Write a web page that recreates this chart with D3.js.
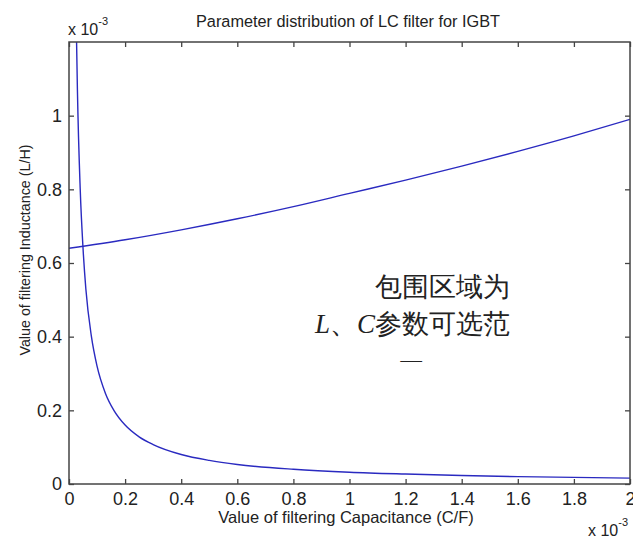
<!DOCTYPE html>
<html>
<head>
<meta charset="utf-8">
<script src="https://cdn.jsdelivr.net/npm/d3@7"></script>
<style>
  body { margin: 0; background: #fff; }
  text { font-family: "Liberation Sans", Arial, sans-serif; fill: #222; }
</style>
</head>
<body>
<div id="chart"></div>
<script>
// values in units of 1e-3 (as plotted, with the x 10^-3 multiplier)
const upperC = [0, 0.2, 0.4, 0.6, 0.8, 1.0, 1.2, 1.4, 1.6, 1.8, 2.0];
const upperL = [0.64, 0.663, 0.69, 0.72, 0.753, 0.789, 0.825, 0.863, 0.903, 0.945, 0.99];

const lowerC = [0.027, 0.03, 0.04, 0.05, 0.06, 0.08, 0.1, 0.13, 0.16, 0.2, 0.25, 0.3, 0.4, 0.5, 0.6, 0.8, 1.0, 1.2, 1.4, 1.6, 1.8, 2.0];
const lowerL = [1.2, 1.07, 0.80, 0.64, 0.53, 0.40, 0.32, 0.246, 0.20, 0.16, 0.128, 0.107, 0.08, 0.064, 0.053, 0.04, 0.032, 0.027, 0.023, 0.02, 0.018, 0.016];

const xTicks = [0, 0.2, 0.4, 0.6, 0.8, 1, 1.2, 1.4, 1.6, 1.8, 2];
const yTicks = [0, 0.2, 0.4, 0.6, 0.8, 1];

const width = 633, height = 539;
const m = { left: 69, right: 3, top: 42, bottom: 55 };
const iw = width - m.left - m.right;
const ih = height - m.top - m.bottom;

const svg = d3.select("#chart").append("svg")
    .attr("width", width)
    .attr("height", height);

const g = svg.append("g").attr("transform", `translate(${m.left},${m.top})`);

const x = d3.scaleLinear().domain([0, 2]).range([0, iw]);
const y = d3.scaleLinear().domain([0, 1.2]).range([ih, 0]);

// clip for the curves
svg.append("clipPath").attr("id", "plotclip")
    .append("rect").attr("width", iw).attr("height", ih);

const line = d3.line()
    .x(d => x(d[0]))
    .y(d => y(d[1]))
    .curve(d3.curveMonotoneX);

const curves = g.append("g").attr("clip-path", "url(#plotclip)");
curves.append("path")
    .datum(upperC.map((c, i) => [c, upperL[i]]))
    .attr("d", line)
    .attr("fill", "none")
    .attr("stroke", "#2a2ac0")
    .attr("stroke-width", 1.4);
curves.append("path")
    .datum(lowerC.map((c, i) => [c, lowerL[i]]))
    .attr("d", line)
    .attr("fill", "none")
    .attr("stroke", "#2a2ac0")
    .attr("stroke-width", 1.4);

// axes, MATLAB style: ticks inside on all four sides
const axisColor = "#444";
const fmt = d => d3.format("~g")(d);

const xb = g.append("g").attr("transform", `translate(0,${ih})`)
    .call(d3.axisBottom(x).tickValues(xTicks).tickSizeInner(-5).tickSizeOuter(0).tickPadding(8).tickFormat(fmt));
const xt = g.append("g")
    .call(d3.axisTop(x).tickValues(xTicks).tickSizeInner(-5).tickSizeOuter(0).tickFormat(""));
const yl = g.append("g")
    .call(d3.axisLeft(y).tickValues(yTicks).tickSizeInner(-5).tickSizeOuter(0).tickPadding(7).tickFormat(fmt));
const yr = g.append("g").attr("transform", `translate(${iw},0)`)
    .call(d3.axisRight(y).tickValues(yTicks).tickSizeInner(-5).tickSizeOuter(0).tickFormat(""));

[xb, xt, yl, yr].forEach(a => {
    a.select(".domain").remove();
    a.selectAll("line").attr("stroke", axisColor).attr("stroke-width", 1.3);
    a.selectAll("text").attr("font-size", 18).attr("fill", "#333")
        .attr("font-family", "Liberation Sans, Arial, sans-serif");
});

g.append("rect")
    .attr("width", iw).attr("height", ih)
    .attr("fill", "none")
    .attr("stroke", axisColor)
    .attr("stroke-width", 1.5);

// exponent labels
function expLabel(px, py) {
    const t = svg.append("text").attr("x", px).attr("y", py).attr("font-size", 16);
    t.append("tspan").text("x 10");
    t.append("tspan").attr("dy", -10).attr("font-size", 11).text("-3");
}
expLabel(68, 35);
expLabel(588, 536);

// title and axis labels
svg.append("text")
    .attr("x", 348).attr("y", 27)
    .attr("text-anchor", "middle")
    .attr("font-size", 16.3)
    .text("Parameter distribution of LC filter for IGBT");

svg.append("text")
    .attr("x", 346).attr("y", 523)
    .attr("text-anchor", "middle")
    .attr("font-size", 16.5)
    .text("Value of filtering Capacitance (C/F)");

svg.append("text")
    .attr("transform", "translate(30,250) rotate(-90)")
    .attr("text-anchor", "middle")
    .attr("font-size", 14.3)
    .text("Value of filtering Inductance (L/H)");

// annotation text box (last line clipped)
const cjk = "'Noto Sans CJK SC', sans-serif";
svg.append("clipPath").attr("id", "noteclip")
    .append("rect").attr("x", 280).attr("y", 260).attr("width", 260).attr("height", 102);
const note = svg.append("g").attr("clip-path", "url(#noteclip)");
note.append("text")
    .attr("x", 510).attr("y", 296)
    .attr("text-anchor", "end")
    .attr("font-size", 27)
    .attr("font-family", cjk).attr("font-weight", 300)
    .text("包围区域为");
const l2 = note.append("text")
    .attr("x", 510).attr("y", 333)
    .attr("text-anchor", "end")
    .attr("font-size", 27)
    .attr("font-family", cjk).attr("font-weight", 300);
l2.append("tspan").attr("font-family", "Liberation Serif, serif").attr("font-style", "italic").text("L");
l2.append("tspan").text("、");
l2.append("tspan").attr("font-family", "Liberation Serif, serif").attr("font-style", "italic").text("C");
l2.append("tspan").text("参数可选范");
note.append("text")
    .attr("x", 411).attr("y", 382)
    .attr("text-anchor", "middle")
    .attr("font-size", 27)
    .attr("font-family", cjk).attr("font-weight", 300)
    .text("围");
</script>
</body>
</html>
